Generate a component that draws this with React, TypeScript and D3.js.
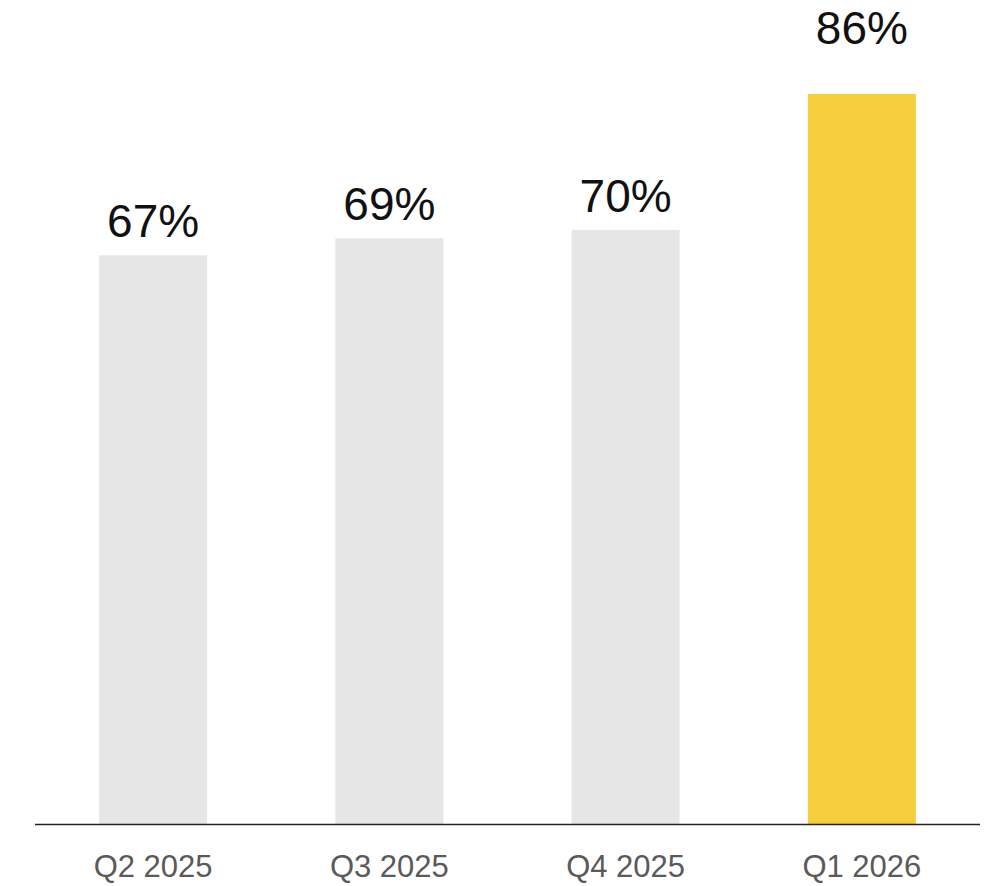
import React from "react";
import * as d3 from "d3";

const categories = ["Q2 2025", "Q3 2025", "Q4 2025", "Q1 2026"];
const values = [67, 69, 70, 86];
const highlight = [false, false, false, true];

const W = 996;
const H = 886;
const baseY = 824;
const axisLeft = 35;
const axisRight = 980;

export default function App() {
  const x = d3
    .scaleBand<string>()
    .domain(categories)
    .range([axisLeft, axisRight])
    .paddingInner(0.543)
    .paddingOuter(0.2715);
  const y = d3.scaleLinear().domain([0, 86]).range([baseY, 94]);
  const font = "'Liberation Sans', Arial, Helvetica, sans-serif";
  return (
    <svg
      width={W}
      height={H}
      style={{ position: "absolute", left: 0, top: 0, background: "#fff" }}
    >
      {categories.map((c, i) => (
        <g key={c}>
          <rect
            x={x(c)}
            y={y(values[i])}
            width={x.bandwidth()}
            height={baseY - y(values[i])}
            fill={highlight[i] ? "#F6CD3A" : "#E6E6E6"}
          />
          <text
            x={(x(c) as number) + x.bandwidth() / 2}
            y={y(values[i]) - (highlight[i] ? 50 : 18)}
            textAnchor="middle"
            fontFamily={font}
            fontSize={46}
            fill="#111"
          >
            {values[i]}%
          </text>
          <text
            x={(x(c) as number) + x.bandwidth() / 2}
            y={877}
            textAnchor="middle"
            fontFamily={font}
            fontSize={31}
            fill="#5a5a5a"
          >
            {c}
          </text>
        </g>
      ))}
      <line
        x1={axisLeft}
        x2={axisRight}
        y1={baseY + 0.5}
        y2={baseY + 0.5}
        stroke="#222"
        strokeWidth={1.5}
      />
    </svg>
  );
}
